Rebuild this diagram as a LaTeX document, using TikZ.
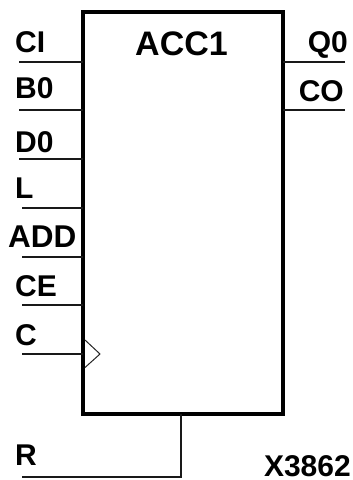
\documentclass[tikz,border=0pt]{standalone}
\usepackage{fontspec}
\setmainfont{Liberation Sans}
\begin{document}
\begin{tikzpicture}[x=1pt,y=-1pt,
  pinlabel/.style={font=\fontsize{30}{30}\selectfont\bfseries,inner sep=0pt},
  widelabel/.style={font=\fontsize{31.5}{31.5}\selectfont\bfseries,inner sep=0pt},
  titlelabel/.style={font=\fontsize{34}{34}\selectfont\bfseries,inner sep=0pt},
  pinwire/.style={line width=1.6pt,draw=black!90},
  blockbox/.style={draw=black,line width=4pt,outer sep=0pt,minimum width=200pt,minimum height=402pt,inner sep=0pt,anchor=north west}]
\useasboundingbox (0,0) rectangle (353,480);
\node[blockbox] (acc) at (83,12) {};
\node[titlelabel,anchor=base] (title) at (181.5,55) {ACC1};
% free ends
\coordinate (eCI) at (19,62);
\coordinate (eB) at (19,110);
\coordinate (eD) at (19,159);
\coordinate (eL) at (22,208);
\coordinate (eADD) at (22,257);
\coordinate (eCE) at (22,305);
\coordinate (eC) at (22,354);
\coordinate (eR) at (22,477);
\coordinate (eQ) at (345,62);
\coordinate (eCO) at (345,110);
\draw[pinwire] (eCI) -- (acc.west |- eCI);
\draw[pinwire] (eB) -- (acc.west |- eB);
\draw[pinwire] (eD) -- (acc.west |- eD);
\draw[pinwire] (eL) -- (acc.west |- eL);
\draw[pinwire] (eADD) -- (acc.west |- eADD);
\draw[pinwire] (eCE) -- (acc.west |- eCE);
\draw[pinwire] (eC) -- (acc.west |- eC);
\draw[pinwire] (eQ) -- (acc.east |- eQ);
\draw[pinwire] (eCO) -- (acc.east |- eCO);
\coordinate (rtap) at (181,414);
\draw[pinwire] (eR) -| (rtap);
\coordinate (clkA) at (85,340);
\coordinate (clkB) at (100,354);
\coordinate (clkC) at (85,367.5);
\draw[line width=1pt,black!85] (clkA) -- (clkB) -- (clkC);
\node[pinlabel,anchor=base west] (lCI) at (15,52) {CI};
\node[pinlabel,anchor=base west] (lB) at (15,98) {B0};
\node[pinlabel,anchor=base west] (lD) at (15,152) {D0};
\node[pinlabel,anchor=base west] (lL) at (15,198) {L};
\node[widelabel,anchor=base west] (lADD) at (8,247) {ADD};
\node[pinlabel,anchor=base west] (lCE) at (15,296) {CE};
\node[pinlabel,anchor=base west] (lC) at (15,345) {C};
\node[pinlabel,anchor=base west] (lR) at (15,465) {R};
\node[pinlabel,anchor=base east] (lQ) at (348,52) {Q0};
\node[pinlabel,anchor=base east] (lCO) at (344,101) {CO};
\node[pinlabel,anchor=base east] (lX) at (351,476.5) {X3862};
\end{tikzpicture}
\end{document}
